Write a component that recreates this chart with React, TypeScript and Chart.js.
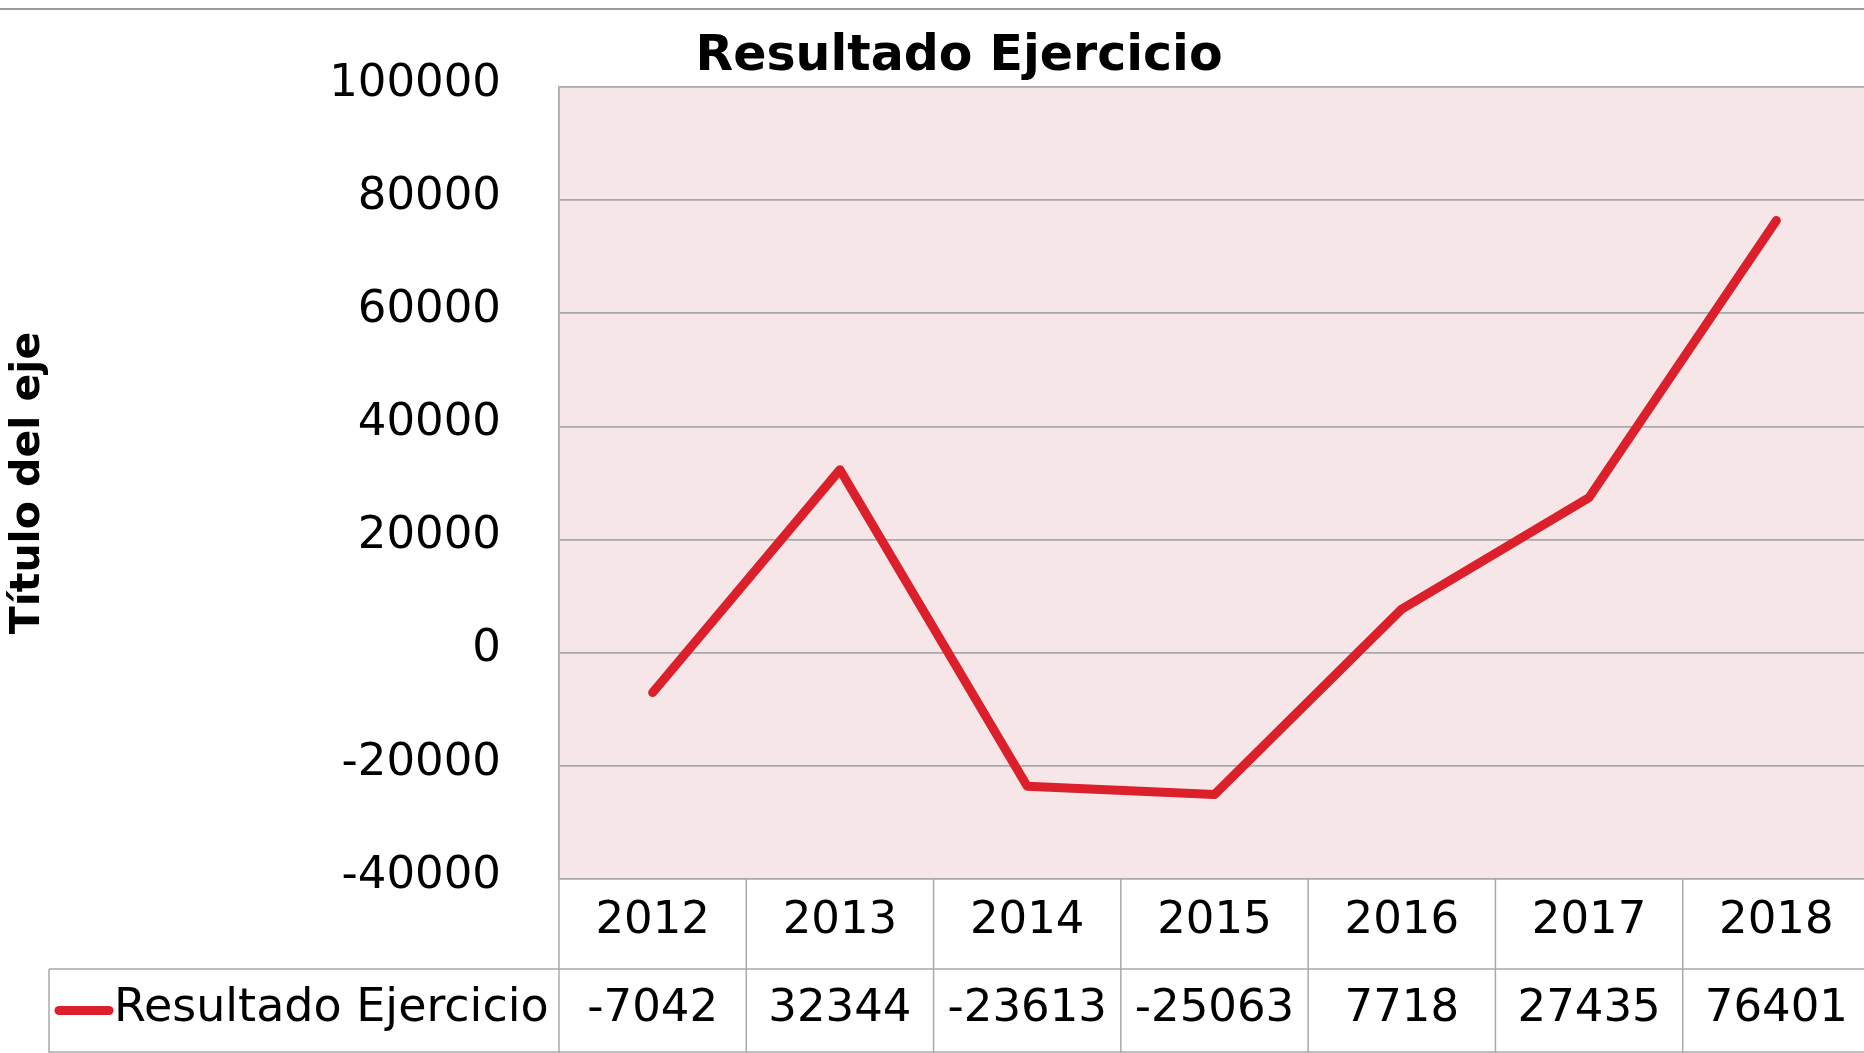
import React, { useEffect, useRef } from "react";
import { Chart, registerables } from "chart.js";

Chart.register(...registerables);

// ---- data ----
const years: string[] = ["2012", "2013", "2014", "2015", "2016", "2017", "2018"];
const resultado: number[] = [-7042, 32344, -23613, -25063, 7718, 27435, 76401];
const seriesName = "Resultado Ejercicio";
const chartTitle = "Resultado Ejercicio";
const axisTitle = "Título del eje";
const yTicksMin = -40000;
const yTicksMax = 100000;
const yTicksStep = 20000;

// ---- styles ----
const FONT = "'DejaVu Sans'";
const W = 1872;
const H = 1053;
const VIEW_W = 1864;
const PLOT_TOP = 87;
const PLOT_LEFT = 559;
const PLOT_BOTTOM = 879;
const PAD_LEFT = 4;
const RED = "#DB1F2B";
const GRID = "#A9A9A9";
const PINK = "#F6E6E8";
const LABEL_SIZE = 45;
const LINE_W = 9;

const bgPlugin = {
  id: "plotBg",
  beforeDraw(chart: any) {
    const { ctx, chartArea: ca } = chart;
    ctx.save();
    ctx.fillStyle = PINK;
    ctx.fillRect(ca.left, ca.top, ca.right - ca.left, ca.bottom - ca.top);
    ctx.restore();
  },
};

const decorPlugin = {
  id: "decor",
  afterDraw(chart: any) {
    const { ctx, chartArea: ca } = chart;
    const xs = chart.scales.x;
    ctx.save();
    // top frame line
    ctx.strokeStyle = "#9C9C9C";
    ctx.lineWidth = 2;
    ctx.beginPath();
    ctx.moveTo(0, 9);
    ctx.lineTo(W, 9);
    ctx.stroke();

    // title
    ctx.fillStyle = "#000";
    ctx.font = `bold 49px ${FONT}`;
    ctx.textAlign = "center";
    ctx.textBaseline = "alphabetic";
    ctx.fillText(chartTitle, 959, 70);

    // data table
    const n = years.length;
    const catW = (ca.right - ca.left) / n;
    const rowSplit = 969;
    ctx.strokeStyle = GRID;
    ctx.lineWidth = 1.5;
    ctx.beginPath();
    for (let i = 0; i <= n; i++) {
      const x = ca.left + i * catW;
      ctx.moveTo(x, ca.bottom);
      ctx.lineTo(x, H);
    }
    ctx.moveTo(49, rowSplit);
    ctx.lineTo(ca.right, rowSplit);
    ctx.moveTo(49, H - 1);
    ctx.lineTo(ca.right, H - 1);
    ctx.moveTo(49, rowSplit);
    ctx.lineTo(49, H);
    ctx.stroke();

    ctx.font = `${LABEL_SIZE}px ${FONT}`;
    ctx.fillStyle = "#000";
    ctx.textAlign = "center";
    ctx.textBaseline = "alphabetic";
    for (let i = 0; i < n; i++) {
      const cx = xs.getPixelForValue(i);
      ctx.fillText(years[i], cx, 933);
      ctx.fillText(String(resultado[i]), cx, 1021);
    }

    // legend key
    ctx.strokeStyle = RED;
    ctx.lineWidth = LINE_W;
    ctx.lineCap = "round";
    ctx.beginPath();
    ctx.moveTo(59, 1010.5);
    ctx.lineTo(109, 1010.5);
    ctx.stroke();
    ctx.textAlign = "left";
    ctx.font = `46px ${FONT}`;
    ctx.fillText(seriesName, 114, 1021);
    ctx.restore();
  },
};

export default function App() {
  const ref = useRef<HTMLCanvasElement | null>(null);

  useEffect(() => {
    if (!ref.current) return;
    const chart = new Chart(ref.current, {
      type: "line",
      data: {
        labels: years,
        datasets: [
          {
            label: seriesName,
            data: resultado,
            borderColor: RED,
            backgroundColor: RED,
            borderWidth: LINE_W,
            borderCapStyle: "round",
            borderJoinStyle: "round",
            pointRadius: 0,
            tension: 0,
            fill: false,
          },
        ],
      },
      options: {
        animation: false,
        responsive: false,
        devicePixelRatio: 1,
        layout: { padding: { top: PLOT_TOP, left: PAD_LEFT, right: W - 1870, bottom: 0 } },
        plugins: {
          legend: { display: false },
          title: { display: false },
          tooltip: { enabled: false },
        },
        scales: {
          x: {
            type: "category",
            offset: true,
            grid: { display: false, drawTicks: false },
            border: { display: false },
            ticks: { display: false },
            afterFit(scale: any) {
              scale.height = H - PLOT_BOTTOM;
            },
          },
          y: {
            min: yTicksMin,
            max: yTicksMax,
            grid: { color: GRID, lineWidth: 1.75, drawTicks: false },
            border: { display: true, color: GRID, width: 1.75 },
            ticks: {
              stepSize: yTicksStep,
              padding: 58,
              labelOffset: -3,
              color: "#000",
              font: { family: FONT, size: LABEL_SIZE },
              callback: (v: any) => String(v),
            },
            title: {
              display: true,
              text: axisTitle,
              color: "#000",
              font: { family: FONT, size: 41, weight: "bold", lineHeight: 1.2 },
              padding: { top: 0, bottom: 0 },
            },
            afterFit(scale: any) {
              scale.width = PLOT_LEFT - PAD_LEFT;
            },
          },
        },
      },
      plugins: [bgPlugin, decorPlugin],
    });
    return () => chart.destroy();
  }, []);

  return (
    <div
      style={{
        position: "fixed",
        left: 0,
        top: 0,
        width: VIEW_W,
        height: H,
        overflow: "hidden",
        background: "#fff",
      }}
    >
      <canvas ref={ref} width={W} height={H} style={{ width: W, height: H, display: "block" }} />
    </div>
  );
}
